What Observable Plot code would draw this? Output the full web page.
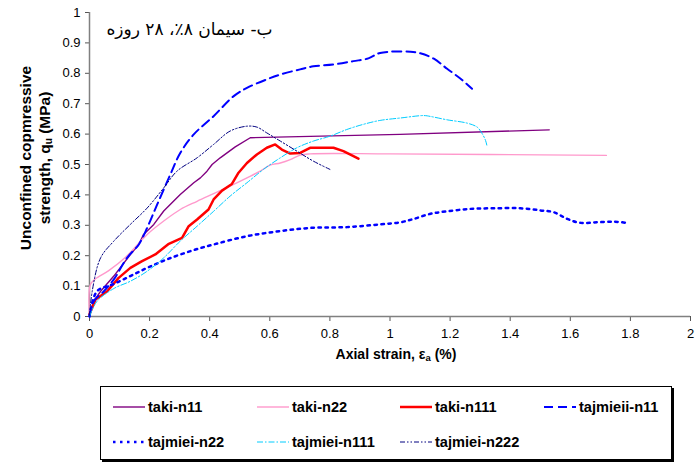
<!DOCTYPE html>
<html>
<head>
<meta charset="utf-8">
<script src="https://cdn.jsdelivr.net/npm/d3@7"></script>
<script src="https://cdn.jsdelivr.net/npm/@observablehq/plot@0.6"></script>
<style>
  body { margin: 0; background: #fff; font-family: "Liberation Sans", Arial, sans-serif; }
  #wrap { position: relative; width: 696px; height: 463px; }
  #legend { position: absolute; left: 100px; top: 386px; width: 570px; height: 72px;
            border: 1px solid #000; box-shadow: 2px 2px 0 #000; background: #fff; }
  .item { position: absolute; display: flex; align-items: center; font-weight: bold; font-size: 14.6px; color: #000; }
  .item svg { margin-right: 3px; }
</style>
</head>
<body>
<div id="wrap"><div id="chart"></div><div id="legend"></div></div>
<script>
// ---- data ----
const seriesNames = ["taki-n11", "taki-n22", "taki-n111", "tajmieii-n11", "tajmiei-n22", "tajmiei-n111", "tajmiei-n222"];

const takiN11X = [0, 0.014, 0.037, 0.081, 0.136, 0.164, 0.18, 0.214, 0.247, 0.302, 0.347, 0.369, 0.391, 0.408, 0.435, 0.485, 0.535, 1.033, 1.53];
const takiN11Y = [0.01, 0.05, 0.083, 0.133, 0.204, 0.237, 0.27, 0.303, 0.347, 0.401, 0.44, 0.456, 0.478, 0.5, 0.522, 0.558, 0.588, 0.599, 0.614];

const takiN22X = [0, 0.003, 0.02, 0.064, 0.12, 0.192, 0.247, 0.302, 0.358, 0.413, 0.468, 0.524, 0.568, 0.601, 0.635, 0.668, 0.701, 0.734, 1.0, 1.72];
const takiN22Y = [0.0, 0.105, 0.124, 0.151, 0.195, 0.27, 0.314, 0.352, 0.379, 0.404, 0.429, 0.456, 0.478, 0.498, 0.505, 0.516, 0.531, 0.535, 0.535, 0.53];

const takiN111X = [0, 0.02, 0.059, 0.097, 0.136, 0.175, 0.219, 0.264, 0.308, 0.33, 0.358, 0.396, 0.413, 0.441, 0.474, 0.496, 0.524, 0.557, 0.59, 0.618, 0.64, 0.668, 0.701, 0.734, 0.812, 0.845, 0.895];
const takiN111Y = [0.007, 0.056, 0.083, 0.127, 0.16, 0.182, 0.204, 0.239, 0.259, 0.297, 0.319, 0.352, 0.385, 0.414, 0.436, 0.473, 0.505, 0.533, 0.555, 0.566, 0.549, 0.536, 0.538, 0.555, 0.555, 0.544, 0.519];

const tajmieiiN11X = [0, 0.014, 0.048, 0.081, 0.125, 0.164, 0.192, 0.225, 0.269, 0.302, 0.347, 0.413, 0.48, 0.524, 0.59, 0.635, 0.701, 0.745, 0.812, 0.878, 0.928, 0.967, 1.068, 1.101, 1.146, 1.19, 1.235, 1.273];
const tajmieiiN11Y = [0, 0.05, 0.083, 0.122, 0.193, 0.237, 0.292, 0.368, 0.467, 0.538, 0.599, 0.659, 0.725, 0.752, 0.78, 0.796, 0.813, 0.823, 0.829, 0.84, 0.849, 0.867, 0.871, 0.866, 0.848, 0.815, 0.782, 0.749];

const tajmieiN22X = [0, 0.025, 0.081, 0.136, 0.192, 0.258, 0.336, 0.413, 0.524, 0.635, 0.745, 0.856, 0.968, 1.035, 1.079, 1.135, 1.19, 1.268, 1.345, 1.434, 1.501, 1.545, 1.59, 1.634, 1.69, 1.745, 1.795];
const tajmieiN22Y = [0, 0.083, 0.107, 0.133, 0.16, 0.188, 0.215, 0.237, 0.264, 0.281, 0.292, 0.294, 0.303, 0.31, 0.321, 0.338, 0.346, 0.354, 0.356, 0.356, 0.349, 0.343, 0.321, 0.308, 0.31, 0.312, 0.307];

const tajmieiN111X = [0, 0.025, 0.081, 0.136, 0.192, 0.247, 0.302, 0.358, 0.413, 0.468, 0.524, 0.579, 0.635, 0.69, 0.745, 0.8, 0.856, 0.911, 0.967, 1.035, 1.113, 1.135, 1.19, 1.257, 1.29, 1.307, 1.318, 1.323];
const tajmieiN111Y = [0, 0.05, 0.092, 0.116, 0.149, 0.193, 0.248, 0.297, 0.346, 0.396, 0.44, 0.484, 0.522, 0.555, 0.577, 0.593, 0.615, 0.632, 0.645, 0.653, 0.661, 0.658, 0.647, 0.636, 0.623, 0.601, 0.579, 0.56];

const tajmieiN222X = [0, 0.009, 0.037, 0.081, 0.136, 0.192, 0.247, 0.291, 0.358, 0.413, 0.468, 0.524, 0.557, 0.59, 0.635, 0.69, 0.745, 0.8];
const tajmieiN222Y = [0, 0.083, 0.193, 0.248, 0.303, 0.357, 0.423, 0.478, 0.522, 0.566, 0.61, 0.626, 0.623, 0.604, 0.577, 0.544, 0.511, 0.484];

const xTicks = [0, 0.2, 0.4, 0.6, 0.8, 1, 1.2, 1.4, 1.6, 1.8, 2];
const yTicks = [0, 0.1, 0.2, 0.3, 0.4, 0.5, 0.6, 0.7, 0.8, 0.9, 1];
const titleText = "ب- سیمان ۸٪، ۲۸ روزه";

// ---- styles ----
const styles = {
  "taki-n11":     {stroke: "#800080", width: 1.4, dash: null},
  "taki-n22":     {stroke: "#FF99CC", width: 1.4, dash: null},
  "taki-n111":    {stroke: "#FF0000", width: 2.5, dash: null},
  "tajmieii-n11": {stroke: "#0000FF", width: 2,   dash: "9,5"},
  "tajmiei-n22":  {stroke: "#0000FF", width: 2.5, dash: "2.5,4.5"},
  "tajmiei-n111": {stroke: "#00CCFF", width: 1,   dash: "6,2,1.5,2"},
  "tajmiei-n222": {stroke: "#000080", width: 1,   dash: "5,2,1.5,2,1.5,2"}
};

const xs = [takiN11X, takiN22X, takiN111X, tajmieiiN11X, tajmieiN22X, tajmieiN111X, tajmieiN222X];
const ys = [takiN11Y, takiN22Y, takiN111Y, tajmieiiN11Y, tajmieiN22Y, tajmieiN111Y, tajmieiN222Y];
const rows = seriesNames.flatMap((name, i) => xs[i].map((x, j) => ({series: name, x, y: ys[i][j]})));

const lineMarks = seriesNames.map(name => Plot.line(rows.filter(d => d.series === name), {
  x: "x", y: "y", stroke: styles[name].stroke, strokeWidth: styles[name].width,
  strokeDasharray: styles[name].dash, strokeLinejoin: "round",
  curve: name.startsWith("taki-n1") ? "linear" : "catmull-rom"
}));

const fmt = d => d3.format("~g")(+d.toFixed(2));

const chart = Plot.plot({
  width: 696, height: 380,
  marginLeft: 89, marginRight: 6, marginTop: 12, marginBottom: 64,
  style: {fontFamily: "'Liberation Sans', Arial, sans-serif", fontSize: "13px", color: "#000", background: "#fff"},
  x: {domain: [0, 2], label: null},
  y: {domain: [0, 1], label: null},
  marks: [
    Plot.axisX({ticks: xTicks, tickFormat: fmt, tickSize: 5, tickPadding: 7, stroke: "#555", fontSize: 13, label: null}),
    Plot.axisY({ticks: yTicks, tickFormat: fmt, tickSize: 4, tickPadding: 5, stroke: "#555", fontSize: 13, label: null}),
    Plot.ruleY([0], {stroke: "#808080", strokeWidth: 1.5}),
    Plot.ruleX([0], {stroke: "#808080", strokeWidth: 1.5}),
    ...lineMarks,
    Plot.text([titleText], {frameAnchor: "top-left", dx: 100, dy: 10, text: d => d, textAnchor: "middle",
      fontSize: 17, fontFamily: "'DejaVu Sans', sans-serif", fill: "#000"})
  ]
});
document.getElementById("chart").appendChild(chart);

// axis titles with subscripts
const svg = d3.select(chart);
const yl = svg.append("text").attr("transform", "translate(31,158) rotate(-90)")
  .attr("text-anchor", "middle").attr("font-weight", "bold").attr("font-size", 15.5);
yl.append("tspan").attr("x", 0).attr("dy", 0).text("Unconfined copmressive");
yl.append("tspan").attr("x", 0).attr("dy", 19).text("strength, q");
yl.append("tspan").attr("font-size", 10).attr("dy", 2).text("u");
yl.append("tspan").attr("dy", -2).text(" (MPa)");

const xl = svg.append("text").attr("x", 396).attr("y", 359)
  .attr("text-anchor", "middle").attr("font-weight", "bold").attr("font-size", 14);
xl.append("tspan").text("Axial strain, ε");
xl.append("tspan").attr("font-size", 9.5).attr("dy", 2).text("a");
xl.append("tspan").attr("dy", -2).text(" (%)");

// legend
const legendPos = [
  [12, 20], [156, 20], [299, 20], [443, 20],
  [12, 55], [156, 55], [299, 55]
];
const legend = d3.select("#legend");
seriesNames.forEach((name, i) => {
  const s = styles[name];
  const item = legend.append("div").attr("class", "item")
    .style("left", legendPos[i][0] + "px").style("top", (legendPos[i][1] - 9) + "px");
  const sv = item.append("svg").attr("width", 32).attr("height", 18);
  sv.append("line").attr("x1", 0).attr("x2", 32).attr("y1", 9).attr("y2", 9)
    .attr("stroke", s.stroke).attr("stroke-width", s.width)
    .attr("stroke-dasharray", s.dash);
  item.append("span").text(name);
});
</script>
</body>
</html>
